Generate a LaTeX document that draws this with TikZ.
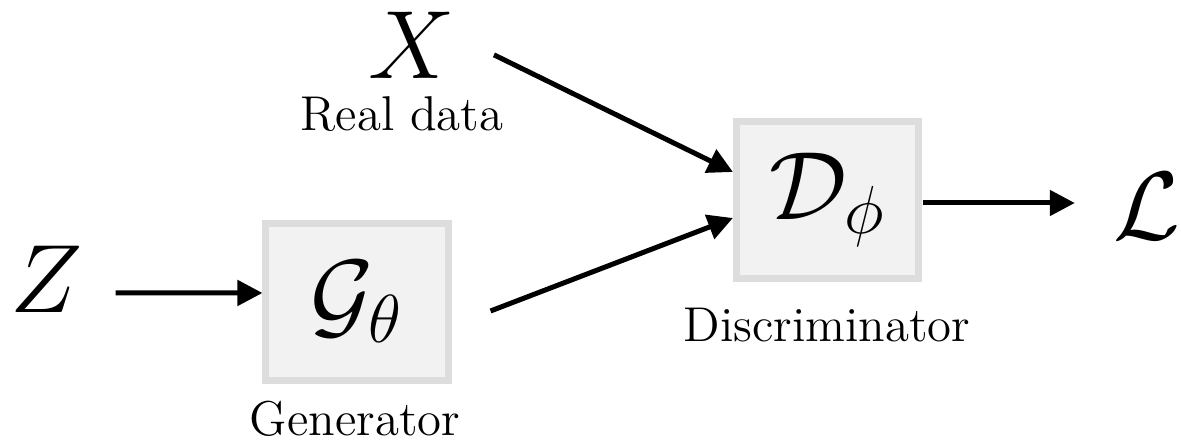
\documentclass[tikz,border=0pt]{standalone}
\usepackage{fix-cm}
\usepackage{amsmath, amssymb}
\usepackage{xcolor}
\usepackage{tikz}
\usetikzlibrary{arrows.meta, positioning}
\definecolor{boxedge}{HTML}{DDDDDD}
\definecolor{boxfill}{HTML}{F2F2F2}

\tikzset{
    netbox/.style={draw=boxedge, fill=boxfill, line width=0.07cm, minimum width=1.82cm, minimum height=1.57cm, inner sep=0pt, font=\fontsize{27.6}{32}\selectfont},
    bigsym/.style={inner sep=0pt, anchor=base, font=\fontsize{27.6}{32}\selectfont},
    caption/.style={inner sep=0pt, anchor=base, font=\fontsize{13.9}{16}\selectfont},
    flow/.style={-{Triangle[length=0.25cm, width=0.25cm]}, line width=0.05cm}
}

\begin{document}
\begin{tikzpicture}[x=0.01cm, y=-0.01cm]
    \useasboundingbox (0,0) rectangle (1181,443);

    % Networks
    \node[netbox] (gen) at (357, 302) {$\mathcal{G}_\theta$};
    \node[netbox] (disc) at (827.5, 200) {$\mathcal{D}_\phi$};

    % Inputs and output
    \node[bigsym] (noise) at (47, 313) {$Z$};
    \node[bigsym] (real) at (412, 79) {$X$};
    \node[bigsym] (loss) at (1147, 240) {$\mathcal{L}$};

    % Captions
    \node[caption] (realtxt) at (402, 131) {Real data};
    \node[caption] (gentxt) at (355, 436) {Generator};
    \node[caption] (disctxt) at (827, 342) {Discriminator};

    % Arrows
    \draw[flow] ([shift={(32,13)}]noise.east) -- ([shift={(0,-9)}]gen.west);
    \draw[flow] ([shift={(38,9)}]real.east) -- ([shift={(0,-28)}]disc.west);
    \draw[flow] ([shift={(39,9)}]gen.east) -- ([shift={(0,18)}]disc.west);
    \draw[flow] ([shift={(1,3)}]disc.east) -- ([shift={(-38,-37)}]loss.base west);
\end{tikzpicture}
\end{document}
